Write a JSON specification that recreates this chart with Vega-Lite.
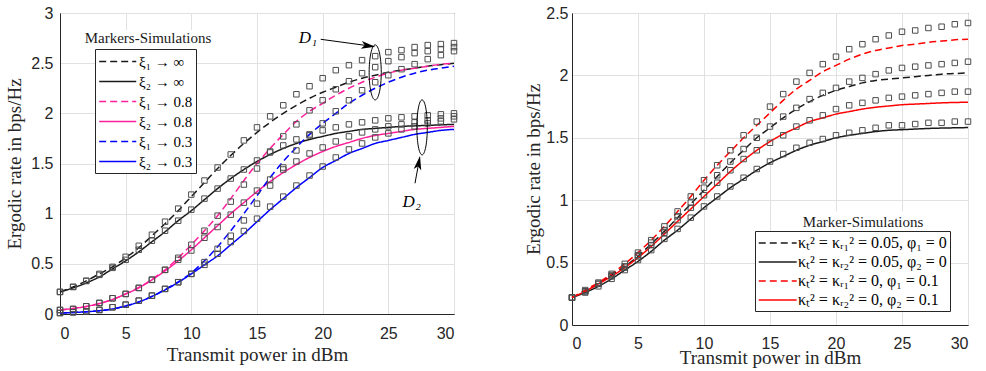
{
  "$schema": "https://vega.github.io/schema/vega-lite/v6.json",
  "background": "white",
  "padding": {"left": 5, "top": 4, "right": 4, "bottom": 2},
  "spacing": 64,
  "config": {
    "view": {"stroke": "#262626", "strokeWidth": 1},
    "axis": {
      "domainColor": "#262626", "domainWidth": 1, "ticks": false,
      "gridColor": "#e1e1e1", "gridWidth": 1,
      "labelFont": "Liberation Sans", "labelFontSize": 16, "labelColor": "#262626",
      "titleFont": "Liberation Serif", "titleFontSize": 19, "titleFontWeight": "normal", "titleColor": "#262626"
    },
    "legend": {
      "labelFont": "Liberation Serif", "labelColor": "#000000",
      "strokeColor": "#262626", "fillColor": "#ffffff",
      "symbolStrokeWidth": 1.5, "padding": 3, "rowPadding": 2
    }
  },
  "datasets": {
    "left": [
      {"s":"ξ₁ → ∞","x":0,"model":0.22,"sim":0.22},{"s":"ξ₁ → ∞","x":1,"model":0.27,"sim":0.27},{"s":"ξ₁ → ∞","x":2,"model":0.33,"sim":0.33},{"s":"ξ₁ → ∞","x":3,"model":0.40,"sim":0.40},{"s":"ξ₁ → ∞","x":4,"model":0.47,"sim":0.47},{"s":"ξ₁ → ∞","x":5,"model":0.56,"sim":0.57},{"s":"ξ₁ → ∞","x":6,"model":0.66,"sim":0.68},{"s":"ξ₁ → ∞","x":7,"model":0.78,"sim":0.79},{"s":"ξ₁ → ∞","x":8,"model":0.90,"sim":0.92},{"s":"ξ₁ → ∞","x":9,"model":1.03,"sim":1.05},{"s":"ξ₁ → ∞","x":10,"model":1.17,"sim":1.19},{"s":"ξ₁ → ∞","x":11,"model":1.31,"sim":1.33},{"s":"ξ₁ → ∞","x":12,"model":1.45,"sim":1.46},{"s":"ξ₁ → ∞","x":13,"model":1.58,"sim":1.59},{"s":"ξ₁ → ∞","x":14,"model":1.70,"sim":1.73},{"s":"ξ₁ → ∞","x":15,"model":1.81,"sim":1.86},{"s":"ξ₁ → ∞","x":16,"model":1.91,"sim":1.97},{"s":"ξ₁ → ∞","x":17,"model":2.00,"sim":2.08},{"s":"ξ₁ → ∞","x":18,"model":2.08,"sim":2.19},{"s":"ξ₁ → ∞","x":19,"model":2.15,"sim":2.27},{"s":"ξ₁ → ∞","x":20,"model":2.21,"sim":2.35},{"s":"ξ₁ → ∞","x":21,"model":2.26,"sim":2.43},{"s":"ξ₁ → ∞","x":22,"model":2.31,"sim":2.48},{"s":"ξ₁ → ∞","x":23,"model":2.35,"sim":2.53},{"s":"ξ₁ → ∞","x":24,"model":2.38,"sim":2.57},{"s":"ξ₁ → ∞","x":25,"model":2.41,"sim":2.61},{"s":"ξ₁ → ∞","x":26,"model":2.43,"sim":2.63},{"s":"ξ₁ → ∞","x":27,"model":2.45,"sim":2.66},{"s":"ξ₁ → ∞","x":28,"model":2.47,"sim":2.68},{"s":"ξ₁ → ∞","x":29,"model":2.485,"sim":2.69},{"s":"ξ₁ → ∞","x":30,"model":2.50,"sim":2.70},
      {"s":"ξ₂ → ∞","x":0,"model":0.22,"sim":0.22},{"s":"ξ₂ → ∞","x":1,"model":0.26,"sim":0.27},{"s":"ξ₂ → ∞","x":2,"model":0.31,"sim":0.33},{"s":"ξ₂ → ∞","x":3,"model":0.37,"sim":0.39},{"s":"ξ₂ → ∞","x":4,"model":0.45,"sim":0.46},{"s":"ξ₂ → ∞","x":5,"model":0.53,"sim":0.54},{"s":"ξ₂ → ∞","x":6,"model":0.62,"sim":0.64},{"s":"ξ₂ → ∞","x":7,"model":0.72,"sim":0.73},{"s":"ξ₂ → ∞","x":8,"model":0.82,"sim":0.83},{"s":"ξ₂ → ∞","x":9,"model":0.93,"sim":0.93},{"s":"ξ₂ → ∞","x":10,"model":1.03,"sim":1.04},{"s":"ξ₂ → ∞","x":11,"model":1.14,"sim":1.15},{"s":"ξ₂ → ∞","x":12,"model":1.25,"sim":1.25},{"s":"ξ₂ → ∞","x":13,"model":1.35,"sim":1.35},{"s":"ξ₂ → ∞","x":14,"model":1.44,"sim":1.44},{"s":"ξ₂ → ∞","x":15,"model":1.52,"sim":1.53},{"s":"ξ₂ → ∞","x":16,"model":1.59,"sim":1.62},{"s":"ξ₂ → ∞","x":17,"model":1.65,"sim":1.68},{"s":"ξ₂ → ∞","x":18,"model":1.70,"sim":1.74},{"s":"ξ₂ → ∞","x":19,"model":1.74,"sim":1.79},{"s":"ξ₂ → ∞","x":20,"model":1.77,"sim":1.83},{"s":"ξ₂ → ∞","x":21,"model":1.80,"sim":1.86},{"s":"ξ₂ → ∞","x":22,"model":1.82,"sim":1.89},{"s":"ξ₂ → ∞","x":23,"model":1.84,"sim":1.91},{"s":"ξ₂ → ∞","x":24,"model":1.85,"sim":1.93},{"s":"ξ₂ → ∞","x":25,"model":1.86,"sim":1.95},{"s":"ξ₂ → ∞","x":26,"model":1.87,"sim":1.96},{"s":"ξ₂ → ∞","x":27,"model":1.875,"sim":1.97},{"s":"ξ₂ → ∞","x":28,"model":1.88,"sim":1.98},{"s":"ξ₂ → ∞","x":29,"model":1.885,"sim":1.99},{"s":"ξ₂ → ∞","x":30,"model":1.89,"sim":2.00},
      {"s":"ξ₁ → 0.8","x":0,"model":0.04,"sim":0.04},{"s":"ξ₁ → 0.8","x":1,"model":0.055,"sim":0.05},{"s":"ξ₁ → 0.8","x":2,"model":0.075,"sim":0.077},{"s":"ξ₁ → 0.8","x":3,"model":0.105,"sim":0.11},{"s":"ξ₁ → 0.8","x":4,"model":0.145,"sim":0.157},{"s":"ξ₁ → 0.8","x":5,"model":0.20,"sim":0.20},{"s":"ξ₁ → 0.8","x":6,"model":0.265,"sim":0.26},{"s":"ξ₁ → 0.8","x":7,"model":0.345,"sim":0.343},{"s":"ξ₁ → 0.8","x":8,"model":0.44,"sim":0.44},{"s":"ξ₁ → 0.8","x":9,"model":0.56,"sim":0.56},{"s":"ξ₁ → 0.8","x":10,"model":0.69,"sim":0.69},{"s":"ξ₁ → 0.8","x":11,"model":0.83,"sim":0.83},{"s":"ξ₁ → 0.8","x":12,"model":0.98,"sim":0.98},{"s":"ξ₁ → 0.8","x":13,"model":1.15,"sim":1.12},{"s":"ξ₁ → 0.8","x":14,"model":1.33,"sim":1.29},{"s":"ξ₁ → 0.8","x":15,"model":1.50,"sim":1.45},{"s":"ξ₁ → 0.8","x":16,"model":1.65,"sim":1.61},{"s":"ξ₁ → 0.8","x":17,"model":1.79,"sim":1.77},{"s":"ξ₁ → 0.8","x":18,"model":1.92,"sim":1.89},{"s":"ξ₁ → 0.8","x":19,"model":2.02,"sim":2.03},{"s":"ξ₁ → 0.8","x":20,"model":2.10,"sim":2.13},{"s":"ξ₁ → 0.8","x":21,"model":2.18,"sim":2.24},{"s":"ξ₁ → 0.8","x":22,"model":2.25,"sim":2.32},{"s":"ξ₁ → 0.8","x":23,"model":2.31,"sim":2.40},{"s":"ξ₁ → 0.8","x":24,"model":2.36,"sim":2.46},{"s":"ξ₁ → 0.8","x":25,"model":2.40,"sim":2.52},{"s":"ξ₁ → 0.8","x":26,"model":2.43,"sim":2.56},{"s":"ξ₁ → 0.8","x":27,"model":2.45,"sim":2.60},{"s":"ξ₁ → 0.8","x":28,"model":2.47,"sim":2.62},{"s":"ξ₁ → 0.8","x":29,"model":2.49,"sim":2.64},{"s":"ξ₁ → 0.8","x":30,"model":2.50,"sim":2.66},
      {"s":"ξ₂ → 0.8","x":0,"model":0.04,"sim":0.04},{"s":"ξ₂ → 0.8","x":1,"model":0.055,"sim":0.05},{"s":"ξ₂ → 0.8","x":2,"model":0.075,"sim":0.077},{"s":"ξ₂ → 0.8","x":3,"model":0.105,"sim":0.11},{"s":"ξ₂ → 0.8","x":4,"model":0.145,"sim":0.157},{"s":"ξ₂ → 0.8","x":5,"model":0.20,"sim":0.20},{"s":"ξ₂ → 0.8","x":6,"model":0.26,"sim":0.26},{"s":"ξ₂ → 0.8","x":7,"model":0.34,"sim":0.34},{"s":"ξ₂ → 0.8","x":8,"model":0.43,"sim":0.44},{"s":"ξ₂ → 0.8","x":9,"model":0.53,"sim":0.54},{"s":"ξ₂ → 0.8","x":10,"model":0.64,"sim":0.633},{"s":"ξ₂ → 0.8","x":11,"model":0.76,"sim":0.76},{"s":"ξ₂ → 0.8","x":12,"model":0.88,"sim":0.867},{"s":"ξ₂ → 0.8","x":13,"model":1.00,"sim":0.99},{"s":"ξ₂ → 0.8","x":14,"model":1.11,"sim":1.11},{"s":"ξ₂ → 0.8","x":15,"model":1.22,"sim":1.23},{"s":"ξ₂ → 0.8","x":16,"model":1.32,"sim":1.34},{"s":"ξ₂ → 0.8","x":17,"model":1.41,"sim":1.44},{"s":"ξ₂ → 0.8","x":18,"model":1.49,"sim":1.52},{"s":"ξ₂ → 0.8","x":19,"model":1.56,"sim":1.60},{"s":"ξ₂ → 0.8","x":20,"model":1.62,"sim":1.66},{"s":"ξ₂ → 0.8","x":21,"model":1.67,"sim":1.72},{"s":"ξ₂ → 0.8","x":22,"model":1.71,"sim":1.77},{"s":"ξ₂ → 0.8","x":23,"model":1.75,"sim":1.81},{"s":"ξ₂ → 0.8","x":24,"model":1.78,"sim":1.84},{"s":"ξ₂ → 0.8","x":25,"model":1.80,"sim":1.87},{"s":"ξ₂ → 0.8","x":26,"model":1.82,"sim":1.89},{"s":"ξ₂ → 0.8","x":27,"model":1.84,"sim":1.91},{"s":"ξ₂ → 0.8","x":28,"model":1.85,"sim":1.93},{"s":"ξ₂ → 0.8","x":29,"model":1.86,"sim":1.95},{"s":"ξ₂ → 0.8","x":30,"model":1.87,"sim":1.97},
      {"s":"ξ₁ → 0.3","x":0,"model":0.01,"sim":0.01},{"s":"ξ₁ → 0.3","x":1,"model":0.015,"sim":0.017},{"s":"ξ₁ → 0.3","x":2,"model":0.022,"sim":0.027},{"s":"ξ₁ → 0.3","x":3,"model":0.033,"sim":0.04},{"s":"ξ₁ → 0.3","x":4,"model":0.05,"sim":0.067},{"s":"ξ₁ → 0.3","x":5,"model":0.08,"sim":0.093},{"s":"ξ₁ → 0.3","x":6,"model":0.12,"sim":0.133},{"s":"ξ₁ → 0.3","x":7,"model":0.175,"sim":0.183},{"s":"ξ₁ → 0.3","x":8,"model":0.245,"sim":0.25},{"s":"ξ₁ → 0.3","x":9,"model":0.32,"sim":0.317},{"s":"ξ₁ → 0.3","x":10,"model":0.41,"sim":0.40},{"s":"ξ₁ → 0.3","x":11,"model":0.53,"sim":0.517},{"s":"ξ₁ → 0.3","x":12,"model":0.67,"sim":0.65},{"s":"ξ₁ → 0.3","x":13,"model":0.83,"sim":0.78},{"s":"ξ₁ → 0.3","x":14,"model":1.00,"sim":0.933},{"s":"ξ₁ → 0.3","x":15,"model":1.18,"sim":1.10},{"s":"ξ₁ → 0.3","x":16,"model":1.36,"sim":1.28},{"s":"ξ₁ → 0.3","x":17,"model":1.52,"sim":1.46},{"s":"ξ₁ → 0.3","x":18,"model":1.66,"sim":1.63},{"s":"ξ₁ → 0.3","x":19,"model":1.79,"sim":1.78},{"s":"ξ₁ → 0.3","x":20,"model":1.90,"sim":1.90},{"s":"ξ₁ → 0.3","x":21,"model":2.00,"sim":2.02},{"s":"ξ₁ → 0.3","x":22,"model":2.10,"sim":2.13},{"s":"ξ₁ → 0.3","x":23,"model":2.18,"sim":2.23},{"s":"ξ₁ → 0.3","x":24,"model":2.25,"sim":2.31},{"s":"ξ₁ → 0.3","x":25,"model":2.31,"sim":2.38},{"s":"ξ₁ → 0.3","x":26,"model":2.36,"sim":2.44},{"s":"ξ₁ → 0.3","x":27,"model":2.40,"sim":2.49},{"s":"ξ₁ → 0.3","x":28,"model":2.43,"sim":2.54},{"s":"ξ₁ → 0.3","x":29,"model":2.45,"sim":2.58},{"s":"ξ₁ → 0.3","x":30,"model":2.47,"sim":2.62},
      {"s":"ξ₂ → 0.3","x":0,"model":0.01,"sim":0.01},{"s":"ξ₂ → 0.3","x":1,"model":0.015,"sim":0.017},{"s":"ξ₂ → 0.3","x":2,"model":0.022,"sim":0.027},{"s":"ξ₂ → 0.3","x":3,"model":0.033,"sim":0.04},{"s":"ξ₂ → 0.3","x":4,"model":0.05,"sim":0.067},{"s":"ξ₂ → 0.3","x":5,"model":0.08,"sim":0.093},{"s":"ξ₂ → 0.3","x":6,"model":0.12,"sim":0.133},{"s":"ξ₂ → 0.3","x":7,"model":0.175,"sim":0.183},{"s":"ξ₂ → 0.3","x":8,"model":0.24,"sim":0.25},{"s":"ξ₂ → 0.3","x":9,"model":0.315,"sim":0.317},{"s":"ξ₂ → 0.3","x":10,"model":0.40,"sim":0.40},{"s":"ξ₂ → 0.3","x":11,"model":0.49,"sim":0.49},{"s":"ξ₂ → 0.3","x":12,"model":0.58,"sim":0.60},{"s":"ξ₂ → 0.3","x":13,"model":0.69,"sim":0.717},{"s":"ξ₂ → 0.3","x":14,"model":0.80,"sim":0.827},{"s":"ξ₂ → 0.3","x":15,"model":0.92,"sim":0.95},{"s":"ξ₂ → 0.3","x":16,"model":1.04,"sim":1.07},{"s":"ξ₂ → 0.3","x":17,"model":1.15,"sim":1.17},{"s":"ξ₂ → 0.3","x":18,"model":1.26,"sim":1.28},{"s":"ξ₂ → 0.3","x":19,"model":1.36,"sim":1.38},{"s":"ξ₂ → 0.3","x":20,"model":1.46,"sim":1.47},{"s":"ξ₂ → 0.3","x":21,"model":1.53,"sim":1.56},{"s":"ξ₂ → 0.3","x":22,"model":1.60,"sim":1.64},{"s":"ξ₂ → 0.3","x":23,"model":1.65,"sim":1.70},{"s":"ξ₂ → 0.3","x":24,"model":1.70,"sim":1.76},{"s":"ξ₂ → 0.3","x":25,"model":1.73,"sim":1.80},{"s":"ξ₂ → 0.3","x":26,"model":1.76,"sim":1.84},{"s":"ξ₂ → 0.3","x":27,"model":1.79,"sim":1.87},{"s":"ξ₂ → 0.3","x":28,"model":1.81,"sim":1.90},{"s":"ξ₂ → 0.3","x":29,"model":1.83,"sim":1.92},{"s":"ξ₂ → 0.3","x":30,"model":1.84,"sim":1.94}
    ],
    "right": [
      {"s":"κₜ² = κᵣ₁² = 0.05, φ₁ = 0","x":0,"model":0.22,"sim":0.22},{"s":"κₜ² = κᵣ₁² = 0.05, φ₁ = 0","x":1,"model":0.27,"sim":0.27},{"s":"κₜ² = κᵣ₁² = 0.05, φ₁ = 0","x":2,"model":0.33,"sim":0.33},{"s":"κₜ² = κᵣ₁² = 0.05, φ₁ = 0","x":3,"model":0.40,"sim":0.40},{"s":"κₜ² = κᵣ₁² = 0.05, φ₁ = 0","x":4,"model":0.47,"sim":0.47},{"s":"κₜ² = κᵣ₁² = 0.05, φ₁ = 0","x":5,"model":0.55,"sim":0.56},{"s":"κₜ² = κᵣ₁² = 0.05, φ₁ = 0","x":6,"model":0.65,"sim":0.66},{"s":"κₜ² = κᵣ₁² = 0.05, φ₁ = 0","x":7,"model":0.75,"sim":0.76},{"s":"κₜ² = κᵣ₁² = 0.05, φ₁ = 0","x":8,"model":0.86,"sim":0.87},{"s":"κₜ² = κᵣ₁² = 0.05, φ₁ = 0","x":9,"model":0.97,"sim":0.98},{"s":"κₜ² = κᵣ₁² = 0.05, φ₁ = 0","x":10,"model":1.08,"sim":1.10},{"s":"κₜ² = κᵣ₁² = 0.05, φ₁ = 0","x":11,"model":1.19,"sim":1.20},{"s":"κₜ² = κᵣ₁² = 0.05, φ₁ = 0","x":12,"model":1.30,"sim":1.31},{"s":"κₜ² = κᵣ₁² = 0.05, φ₁ = 0","x":13,"model":1.40,"sim":1.41},{"s":"κₜ² = κᵣ₁² = 0.05, φ₁ = 0","x":14,"model":1.50,"sim":1.50},{"s":"κₜ² = κᵣ₁² = 0.05, φ₁ = 0","x":15,"model":1.58,"sim":1.59},{"s":"κₜ² = κᵣ₁² = 0.05, φ₁ = 0","x":16,"model":1.66,"sim":1.67},{"s":"κₜ² = κᵣ₁² = 0.05, φ₁ = 0","x":17,"model":1.73,"sim":1.74},{"s":"κₜ² = κᵣ₁² = 0.05, φ₁ = 0","x":18,"model":1.79,"sim":1.81},{"s":"κₜ² = κᵣ₁² = 0.05, φ₁ = 0","x":19,"model":1.84,"sim":1.86},{"s":"κₜ² = κᵣ₁² = 0.05, φ₁ = 0","x":20,"model":1.88,"sim":1.90},{"s":"κₜ² = κᵣ₁² = 0.05, φ₁ = 0","x":21,"model":1.91,"sim":1.95},{"s":"κₜ² = κᵣ₁² = 0.05, φ₁ = 0","x":22,"model":1.94,"sim":1.98},{"s":"κₜ² = κᵣ₁² = 0.05, φ₁ = 0","x":23,"model":1.96,"sim":2.01},{"s":"κₜ² = κᵣ₁² = 0.05, φ₁ = 0","x":24,"model":1.97,"sim":2.04},{"s":"κₜ² = κᵣ₁² = 0.05, φ₁ = 0","x":25,"model":1.98,"sim":2.06},{"s":"κₜ² = κᵣ₁² = 0.05, φ₁ = 0","x":26,"model":1.99,"sim":2.07},{"s":"κₜ² = κᵣ₁² = 0.05, φ₁ = 0","x":27,"model":2.00,"sim":2.08},{"s":"κₜ² = κᵣ₁² = 0.05, φ₁ = 0","x":28,"model":2.01,"sim":2.09},{"s":"κₜ² = κᵣ₁² = 0.05, φ₁ = 0","x":29,"model":2.015,"sim":2.10},{"s":"κₜ² = κᵣ₁² = 0.05, φ₁ = 0","x":30,"model":2.02,"sim":2.11},
      {"s":"κₜ² = κᵣ₂² = 0.05, φ₂ = 0","x":0,"model":0.22,"sim":0.22},{"s":"κₜ² = κᵣ₂² = 0.05, φ₂ = 0","x":1,"model":0.26,"sim":0.26},{"s":"κₜ² = κᵣ₂² = 0.05, φ₂ = 0","x":2,"model":0.31,"sim":0.31},{"s":"κₜ² = κᵣ₂² = 0.05, φ₂ = 0","x":3,"model":0.37,"sim":0.37},{"s":"κₜ² = κᵣ₂² = 0.05, φ₂ = 0","x":4,"model":0.44,"sim":0.44},{"s":"κₜ² = κᵣ₂² = 0.05, φ₂ = 0","x":5,"model":0.51,"sim":0.52},{"s":"κₜ² = κᵣ₂² = 0.05, φ₂ = 0","x":6,"model":0.59,"sim":0.60},{"s":"κₜ² = κᵣ₂² = 0.05, φ₂ = 0","x":7,"model":0.68,"sim":0.69},{"s":"κₜ² = κᵣ₂² = 0.05, φ₂ = 0","x":8,"model":0.76,"sim":0.77},{"s":"κₜ² = κᵣ₂² = 0.05, φ₂ = 0","x":9,"model":0.85,"sim":0.86},{"s":"κₜ² = κᵣ₂² = 0.05, φ₂ = 0","x":10,"model":0.94,"sim":0.95},{"s":"κₜ² = κᵣ₂² = 0.05, φ₂ = 0","x":11,"model":1.02,"sim":1.03},{"s":"κₜ² = κᵣ₂² = 0.05, φ₂ = 0","x":12,"model":1.10,"sim":1.11},{"s":"κₜ² = κᵣ₂² = 0.05, φ₂ = 0","x":13,"model":1.17,"sim":1.18},{"s":"κₜ² = κᵣ₂² = 0.05, φ₂ = 0","x":14,"model":1.24,"sim":1.25},{"s":"κₜ² = κᵣ₂² = 0.05, φ₂ = 0","x":15,"model":1.30,"sim":1.31},{"s":"κₜ² = κᵣ₂² = 0.05, φ₂ = 0","x":16,"model":1.35,"sim":1.37},{"s":"κₜ² = κᵣ₂² = 0.05, φ₂ = 0","x":17,"model":1.40,"sim":1.42},{"s":"κₜ² = κᵣ₂² = 0.05, φ₂ = 0","x":18,"model":1.44,"sim":1.46},{"s":"κₜ² = κᵣ₂² = 0.05, φ₂ = 0","x":19,"model":1.47,"sim":1.49},{"s":"κₜ² = κᵣ₂² = 0.05, φ₂ = 0","x":20,"model":1.50,"sim":1.52},{"s":"κₜ² = κᵣ₂² = 0.05, φ₂ = 0","x":21,"model":1.52,"sim":1.54},{"s":"κₜ² = κᵣ₂² = 0.05, φ₂ = 0","x":22,"model":1.535,"sim":1.56},{"s":"κₜ² = κᵣ₂² = 0.05, φ₂ = 0","x":23,"model":1.55,"sim":1.58},{"s":"κₜ² = κᵣ₂² = 0.05, φ₂ = 0","x":24,"model":1.56,"sim":1.60},{"s":"κₜ² = κᵣ₂² = 0.05, φ₂ = 0","x":25,"model":1.565,"sim":1.60},{"s":"κₜ² = κᵣ₂² = 0.05, φ₂ = 0","x":26,"model":1.57,"sim":1.61},{"s":"κₜ² = κᵣ₂² = 0.05, φ₂ = 0","x":27,"model":1.575,"sim":1.62},{"s":"κₜ² = κᵣ₂² = 0.05, φ₂ = 0","x":28,"model":1.578,"sim":1.62},{"s":"κₜ² = κᵣ₂² = 0.05, φ₂ = 0","x":29,"model":1.58,"sim":1.63},{"s":"κₜ² = κᵣ₂² = 0.05, φ₂ = 0","x":30,"model":1.582,"sim":1.63},
      {"s":"κₜ² = κᵣ₁² = 0, φ₁ = 0.1","x":0,"model":0.22,"sim":0.22},{"s":"κₜ² = κᵣ₁² = 0, φ₁ = 0.1","x":1,"model":0.28,"sim":0.28},{"s":"κₜ² = κᵣ₁² = 0, φ₁ = 0.1","x":2,"model":0.34,"sim":0.34},{"s":"κₜ² = κᵣ₁² = 0, φ₁ = 0.1","x":3,"model":0.41,"sim":0.41},{"s":"κₜ² = κᵣ₁² = 0, φ₁ = 0.1","x":4,"model":0.49,"sim":0.49},{"s":"κₜ² = κᵣ₁² = 0, φ₁ = 0.1","x":5,"model":0.58,"sim":0.58},{"s":"κₜ² = κᵣ₁² = 0, φ₁ = 0.1","x":6,"model":0.68,"sim":0.68},{"s":"κₜ² = κᵣ₁² = 0, φ₁ = 0.1","x":7,"model":0.79,"sim":0.79},{"s":"κₜ² = κᵣ₁² = 0, φ₁ = 0.1","x":8,"model":0.91,"sim":0.91},{"s":"κₜ² = κᵣ₁² = 0, φ₁ = 0.1","x":9,"model":1.03,"sim":1.03},{"s":"κₜ² = κᵣ₁² = 0, φ₁ = 0.1","x":10,"model":1.16,"sim":1.16},{"s":"κₜ² = κᵣ₁² = 0, φ₁ = 0.1","x":11,"model":1.28,"sim":1.28},{"s":"κₜ² = κᵣ₁² = 0, φ₁ = 0.1","x":12,"model":1.39,"sim":1.40},{"s":"κₜ² = κᵣ₁² = 0, φ₁ = 0.1","x":13,"model":1.50,"sim":1.52},{"s":"κₜ² = κᵣ₁² = 0, φ₁ = 0.1","x":14,"model":1.60,"sim":1.63},{"s":"κₜ² = κᵣ₁² = 0, φ₁ = 0.1","x":15,"model":1.70,"sim":1.75},{"s":"κₜ² = κᵣ₁² = 0, φ₁ = 0.1","x":16,"model":1.80,"sim":1.85},{"s":"κₜ² = κᵣ₁² = 0, φ₁ = 0.1","x":17,"model":1.89,"sim":1.95},{"s":"κₜ² = κᵣ₁² = 0, φ₁ = 0.1","x":18,"model":1.96,"sim":2.02},{"s":"κₜ² = κᵣ₁² = 0, φ₁ = 0.1","x":19,"model":2.03,"sim":2.09},{"s":"κₜ² = κᵣ₁² = 0, φ₁ = 0.1","x":20,"model":2.08,"sim":2.15},{"s":"κₜ² = κᵣ₁² = 0, φ₁ = 0.1","x":21,"model":2.13,"sim":2.21},{"s":"κₜ² = κᵣ₁² = 0, φ₁ = 0.1","x":22,"model":2.17,"sim":2.25},{"s":"κₜ² = κᵣ₁² = 0, φ₁ = 0.1","x":23,"model":2.20,"sim":2.29},{"s":"κₜ² = κᵣ₁² = 0, φ₁ = 0.1","x":24,"model":2.22,"sim":2.32},{"s":"κₜ² = κᵣ₁² = 0, φ₁ = 0.1","x":25,"model":2.24,"sim":2.35},{"s":"κₜ² = κᵣ₁² = 0, φ₁ = 0.1","x":26,"model":2.25,"sim":2.36},{"s":"κₜ² = κᵣ₁² = 0, φ₁ = 0.1","x":27,"model":2.265,"sim":2.38},{"s":"κₜ² = κᵣ₁² = 0, φ₁ = 0.1","x":28,"model":2.275,"sim":2.39},{"s":"κₜ² = κᵣ₁² = 0, φ₁ = 0.1","x":29,"model":2.285,"sim":2.41},{"s":"κₜ² = κᵣ₁² = 0, φ₁ = 0.1","x":30,"model":2.29,"sim":2.42},
      {"s":"κₜ² = κᵣ₂² = 0, φ₂ = 0.1","x":0,"model":0.22,"sim":0.22},{"s":"κₜ² = κᵣ₂² = 0, φ₂ = 0.1","x":1,"model":0.27,"sim":0.27},{"s":"κₜ² = κᵣ₂² = 0, φ₂ = 0.1","x":2,"model":0.33,"sim":0.33},{"s":"κₜ² = κᵣ₂² = 0, φ₂ = 0.1","x":3,"model":0.39,"sim":0.39},{"s":"κₜ² = κᵣ₂² = 0, φ₂ = 0.1","x":4,"model":0.46,"sim":0.46},{"s":"κₜ² = κᵣ₂² = 0, φ₂ = 0.1","x":5,"model":0.54,"sim":0.55},{"s":"κₜ² = κᵣ₂² = 0, φ₂ = 0.1","x":6,"model":0.63,"sim":0.64},{"s":"κₜ² = κᵣ₂² = 0, φ₂ = 0.1","x":7,"model":0.73,"sim":0.74},{"s":"κₜ² = κᵣ₂² = 0, φ₂ = 0.1","x":8,"model":0.83,"sim":0.84},{"s":"κₜ² = κᵣ₂² = 0, φ₂ = 0.1","x":9,"model":0.93,"sim":0.94},{"s":"κₜ² = κᵣ₂² = 0, φ₂ = 0.1","x":10,"model":1.03,"sim":1.04},{"s":"κₜ² = κᵣ₂² = 0, φ₂ = 0.1","x":11,"model":1.13,"sim":1.14},{"s":"κₜ² = κᵣ₂² = 0, φ₂ = 0.1","x":12,"model":1.23,"sim":1.24},{"s":"κₜ² = κᵣ₂² = 0, φ₂ = 0.1","x":13,"model":1.32,"sim":1.33},{"s":"κₜ² = κᵣ₂² = 0, φ₂ = 0.1","x":14,"model":1.40,"sim":1.40},{"s":"κₜ² = κᵣ₂² = 0, φ₂ = 0.1","x":15,"model":1.47,"sim":1.46},{"s":"κₜ² = κᵣ₂² = 0, φ₂ = 0.1","x":16,"model":1.53,"sim":1.52},{"s":"κₜ² = κᵣ₂² = 0, φ₂ = 0.1","x":17,"model":1.58,"sim":1.59},{"s":"κₜ² = κᵣ₂² = 0, φ₂ = 0.1","x":18,"model":1.63,"sim":1.64},{"s":"κₜ² = κᵣ₂² = 0, φ₂ = 0.1","x":19,"model":1.66,"sim":1.68},{"s":"κₜ² = κᵣ₂² = 0, φ₂ = 0.1","x":20,"model":1.69,"sim":1.73},{"s":"κₜ² = κᵣ₂² = 0, φ₂ = 0.1","x":21,"model":1.71,"sim":1.76},{"s":"κₜ² = κᵣ₂² = 0, φ₂ = 0.1","x":22,"model":1.73,"sim":1.78},{"s":"κₜ² = κᵣ₂² = 0, φ₂ = 0.1","x":23,"model":1.745,"sim":1.80},{"s":"κₜ² = κᵣ₂² = 0, φ₂ = 0.1","x":24,"model":1.755,"sim":1.82},{"s":"κₜ² = κᵣ₂² = 0, φ₂ = 0.1","x":25,"model":1.765,"sim":1.83},{"s":"κₜ² = κᵣ₂² = 0, φ₂ = 0.1","x":26,"model":1.77,"sim":1.84},{"s":"κₜ² = κᵣ₂² = 0, φ₂ = 0.1","x":27,"model":1.775,"sim":1.85},{"s":"κₜ² = κᵣ₂² = 0, φ₂ = 0.1","x":28,"model":1.78,"sim":1.86},{"s":"κₜ² = κᵣ₂² = 0, φ₂ = 0.1","x":29,"model":1.783,"sim":1.87},{"s":"κₜ² = κᵣ₂² = 0, φ₂ = 0.1","x":30,"model":1.785,"sim":1.87}
    ]
  },
  "resolve": {
    "scale": {"color": "independent", "strokeDash": "independent"},
    "legend": {"color": "independent", "strokeDash": "independent"}
  },
  "hconcat": [
    {
      "width": 394,
      "height": 301,
      "layer": [
        {
          "data": {"name": "left"},
          "mark": {"type": "line", "strokeWidth": 1.5, "interpolate": "monotone"},
          "encoding": {
            "x": {"field": "x", "type": "quantitative", "scale": {"domain": [0, 30], "nice": false},
                  "axis": {"values": [0, 5, 10, 15, 20, 25, 30], "format": "~g", "title": "Transmit power in dBm", "labelPadding": 11, "titlePadding": 4}},
            "y": {"field": "model", "type": "quantitative", "scale": {"domain": [0, 3], "nice": false},
                  "axis": {"values": [0, 0.5, 1, 1.5, 2, 2.5, 3], "format": "~g", "title": "Ergodic rate in bps/Hz", "labelPadding": 7, "titlePadding": 6}},
            "color": {"field": "s", "type": "nominal",
                      "scale": {"domain": ["ξ₁ → ∞", "ξ₂ → ∞", "ξ₁ → 0.8", "ξ₂ → 0.8", "ξ₁ → 0.3", "ξ₂ → 0.3"],
                                "range": ["#1a1a1a", "#1a1a1a", "#ff1f9a", "#ff1f9a", "#0000ff", "#0000ff"]},
                      "legend": {"title": null, "orient": "none", "legendX": 35, "legendY": 36, "symbolType": "M-1,0H3.46", "symbolSize": 276, "labelOffset": 22, "labelFontSize": 15}},
            "strokeDash": {"field": "s", "type": "nominal",
                           "scale": {"domain": ["ξ₁ → ∞", "ξ₂ → ∞", "ξ₁ → 0.8", "ξ₂ → 0.8", "ξ₁ → 0.3", "ξ₂ → 0.3"],
                                     "range": [[7, 4], [1, 0], [7, 4], [1, 0], [7, 4], [1, 0]]},
                           "legend": {"title": null, "orient": "none", "legendX": 35, "legendY": 36, "symbolType": "M-1,0H3.46", "symbolSize": 276, "labelOffset": 22, "labelFontSize": 15}}
          }
        },
        {
          "data": {"name": "left"},
          "mark": {"type": "point", "shape": "square", "size": 30, "filled": false, "stroke": "#4d4d4d", "strokeWidth": 1, "opacity": 1},
          "encoding": {
            "x": {"field": "x", "type": "quantitative"},
            "y": {"field": "sim", "type": "quantitative"}
          }
        },
        {
          "data": {"values": [{"x1": 1.4, "x2": 12.0, "y1": 2.64, "y2": 2.83}]},
          "mark": {"type": "rect", "fill": "white", "stroke": null},
          "encoding": {
            "x": {"field": "x1", "type": "quantitative"}, "x2": {"field": "x2"},
            "y": {"field": "y1", "type": "quantitative"}, "y2": {"field": "y2"}
          }
        },
        {
          "data": {"values": [{"x": 6.7, "y": 2.752, "label": "Markers-Simulations"}]},
          "mark": {"type": "text", "font": "Liberation Serif", "fontSize": 15, "color": "#1a1a1a", "align": "center", "baseline": "middle"},
          "encoding": {
            "x": {"field": "x", "type": "quantitative"}, "y": {"field": "y", "type": "quantitative"},
            "text": {"field": "label"}
          }
        },
        {
          "data": {"values": [{"x": 24.0, "y": 2.408}]},
          "mark": {"type": "point", "shape": "M0,-1A0.22,1,0,1,1,0,1A0.22,1,0,1,1,0,-1Z", "size": 3025, "filled": false, "stroke": "#000000", "strokeWidth": 1, "opacity": 1},
          "encoding": {"x": {"field": "x", "type": "quantitative"}, "y": {"field": "y", "type": "quantitative"}}
        },
        {
          "data": {"values": [{"x": 27.57, "y": 1.86}]},
          "mark": {"type": "point", "shape": "M0,-1A0.19,1,0,1,1,0,1A0.19,1,0,1,1,0,-1Z", "size": 3025, "filled": false, "stroke": "#000000", "strokeWidth": 1, "opacity": 1},
          "encoding": {"x": {"field": "x", "type": "quantitative"}, "y": {"field": "y", "type": "quantitative"}}
        },
        {
          "data": {"values": [{"x": 19.85, "y": 2.738, "xe": 23.9, "ye": 2.666}, {"x": 27.03, "y": 1.303, "xe": 27.39, "ye": 1.56}]},
          "mark": {"type": "rule", "stroke": "#000000", "strokeWidth": 1},
          "encoding": {
            "x": {"field": "x", "type": "quantitative"}, "y": {"field": "y", "type": "quantitative"},
            "x2": {"field": "xe"}, "y2": {"field": "ye"}
          }
        },
        {
          "data": {"values": [{"x": 24.0, "y": 2.664}]},
          "mark": {"type": "point", "shape": "M0,0L-0.55,2L0,1.5L0.55,2Z", "size": 196, "filled": true, "fill": "#000000", "stroke": null, "angle": 97.7, "opacity": 1},
          "encoding": {"x": {"field": "x", "type": "quantitative"}, "y": {"field": "y", "type": "quantitative"}}
        },
        {
          "data": {"values": [{"x": 27.41, "y": 1.575}]},
          "mark": {"type": "point", "shape": "M0,0L-0.55,2L0,1.5L0.55,2Z", "size": 196, "filled": true, "fill": "#000000", "stroke": null, "angle": 10.4, "opacity": 1},
          "encoding": {"x": {"field": "x", "type": "quantitative"}, "y": {"field": "y", "type": "quantitative"}}
        },
        {
          "data": {"values": [{"x": 18.88, "y": 2.751, "label": "D₁"}, {"x": 26.78, "y": 1.12, "label": "D₂"}]},
          "mark": {"type": "text", "font": "Liberation Serif", "fontSize": 17, "fontStyle": "italic", "color": "#000000", "align": "center", "baseline": "middle"},
          "encoding": {
            "x": {"field": "x", "type": "quantitative"}, "y": {"field": "y", "type": "quantitative"},
            "text": {"field": "label"}
          }
        }
      ]
    },
    {
      "width": 396,
      "height": 312,
      "layer": [
        {
          "data": {"name": "right"},
          "mark": {"type": "line", "strokeWidth": 1.5, "interpolate": "monotone"},
          "encoding": {
            "x": {"field": "x", "type": "quantitative", "scale": {"domain": [0, 30], "nice": false},
                  "axis": {"values": [0, 5, 10, 15, 20, 25, 30], "format": "~g", "title": "Transmit power in dBm", "labelPadding": 10, "titlePadding": -3}},
            "y": {"field": "model", "type": "quantitative", "scale": {"domain": [0, 2.5], "nice": false},
                  "axis": {"values": [0, 0.5, 1, 1.5, 2, 2.5], "format": "~g", "title": "Ergodic rate in bps/Hz", "labelPadding": 4, "titlePadding": 2}},
            "color": {"field": "s", "type": "nominal",
                      "scale": {"domain": ["κₜ² = κᵣ₁² = 0.05, φ₁ = 0", "κₜ² = κᵣ₂² = 0.05, φ₂ = 0", "κₜ² = κᵣ₁² = 0, φ₁ = 0.1", "κₜ² = κᵣ₂² = 0, φ₂ = 0.1"],
                                "range": ["#1a1a1a", "#1a1a1a", "#ff0000", "#ff0000"]},
                      "legend": {"title": null, "orient": "none", "legendX": 183, "legendY": 218, "symbolType": "M-1,0H3.6", "symbolSize": 272, "labelOffset": 22, "labelFontSize": 16}},
            "strokeDash": {"field": "s", "type": "nominal",
                           "scale": {"domain": ["κₜ² = κᵣ₁² = 0.05, φ₁ = 0", "κₜ² = κᵣ₂² = 0.05, φ₂ = 0", "κₜ² = κᵣ₁² = 0, φ₁ = 0.1", "κₜ² = κᵣ₂² = 0, φ₂ = 0.1"],
                                     "range": [[7, 4], [1, 0], [7, 4], [1, 0]]},
                           "legend": {"title": null, "orient": "none", "legendX": 183, "legendY": 218, "symbolType": "M-1,0H3.6", "symbolSize": 272, "labelOffset": 22, "labelFontSize": 16}}
          }
        },
        {
          "data": {"name": "right"},
          "mark": {"type": "point", "shape": "square", "size": 30, "filled": false, "stroke": "#4d4d4d", "strokeWidth": 1, "opacity": 1},
          "encoding": {
            "x": {"field": "x", "type": "quantitative"},
            "y": {"field": "sim", "type": "quantitative"}
          }
        },
        {
          "data": {"values": [{"x1": 16.8, "x2": 27.3, "y1": 0.75, "y2": 0.91}]},
          "mark": {"type": "rect", "fill": "white", "stroke": null},
          "encoding": {
            "x": {"field": "x1", "type": "quantitative"}, "x2": {"field": "x2"},
            "y": {"field": "y1", "type": "quantitative"}, "y2": {"field": "y2"}
          }
        },
        {
          "data": {"values": [{"x": 22.05, "y": 0.826, "label": "Marker-Simulations"}]},
          "mark": {"type": "text", "font": "Liberation Serif", "fontSize": 15, "color": "#1a1a1a", "align": "center", "baseline": "middle"},
          "encoding": {
            "x": {"field": "x", "type": "quantitative"}, "y": {"field": "y", "type": "quantitative"},
            "text": {"field": "label"}
          }
        }
      ]
    }
  ]
}
